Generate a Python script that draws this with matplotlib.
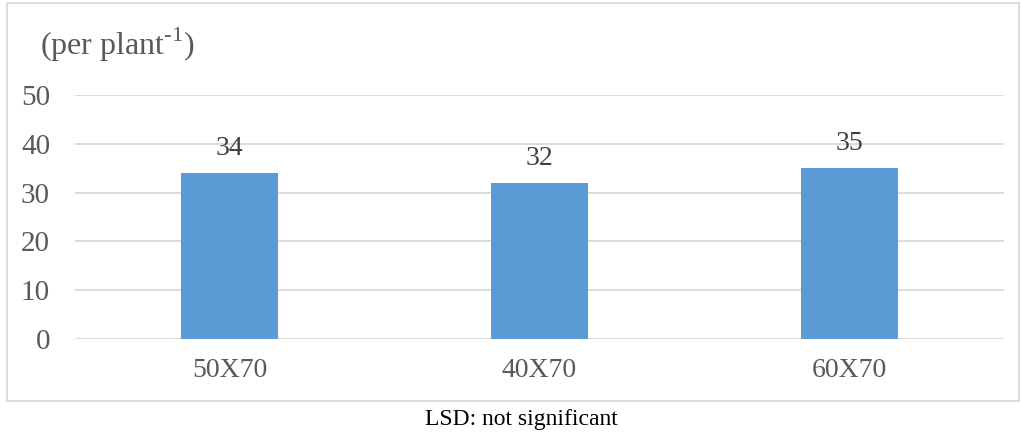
import numpy as np
import matplotlib.pyplot as plt
from matplotlib.patches import Rectangle

categories = ['50X70', '40X70', '60X70']
values = [34, 32, 35]
yticks = [0, 10, 20, 30, 40, 50]

plt.rcParams['font.family'] = ['Liberation Serif', 'DejaVu Serif']
plt.rcParams['mathtext.fontset'] = 'custom'
plt.rcParams['mathtext.rm'] = 'Liberation Serif'

fig = plt.figure(figsize=(10.22, 4.34), dpi=100)
ax = fig.add_axes([75 / 1022, 1 - 339 / 434, 929 / 1022, 244 / 434])

x = np.arange(len(categories))
bars = ax.bar(x, values, width=0.313, color='#5b9bd5', zorder=3)
for xi, v in zip(x, values):
    ax.text(xi, v + 3.7, str(v), ha='center', va='baseline', fontsize=20, color='#404040')

ax.set_xlim(-0.5, 2.5)
ax.set_ylim(0, 50)
ax.set_yticks(yticks)
ax.set_xticks(x)
ax.set_xticklabels(categories)
ax.grid(axis='y', color='#d9d9d9', linewidth=1.3, zorder=0)
ax.tick_params(axis='both', length=0, labelsize=20, labelcolor='#595959')
ax.tick_params(axis='x', pad=14)
ax.tick_params(axis='y', pad=18, labelsize=21)
for s in ax.spines.values():
    s.set_visible(False)

fig.text(40 / 1022, 1 - 45 / 434, r'(per plant$^{\text{-1}}$)', fontsize=23,
         color='#595959', va='center', ha='left')

fig.patches.append(Rectangle((7 / 1022, 33 / 434), 1012 / 1022, 398 / 434,
                             transform=fig.transFigure, fill=False,
                             edgecolor='#d9d9d9', linewidth=1.3))

fig.text(521 / 1022, 1 - 420 / 434, 'LSD: not significant', fontsize=17,
         ha='center', va='center', color='black')

fig.savefig('out.png', dpi=100)
